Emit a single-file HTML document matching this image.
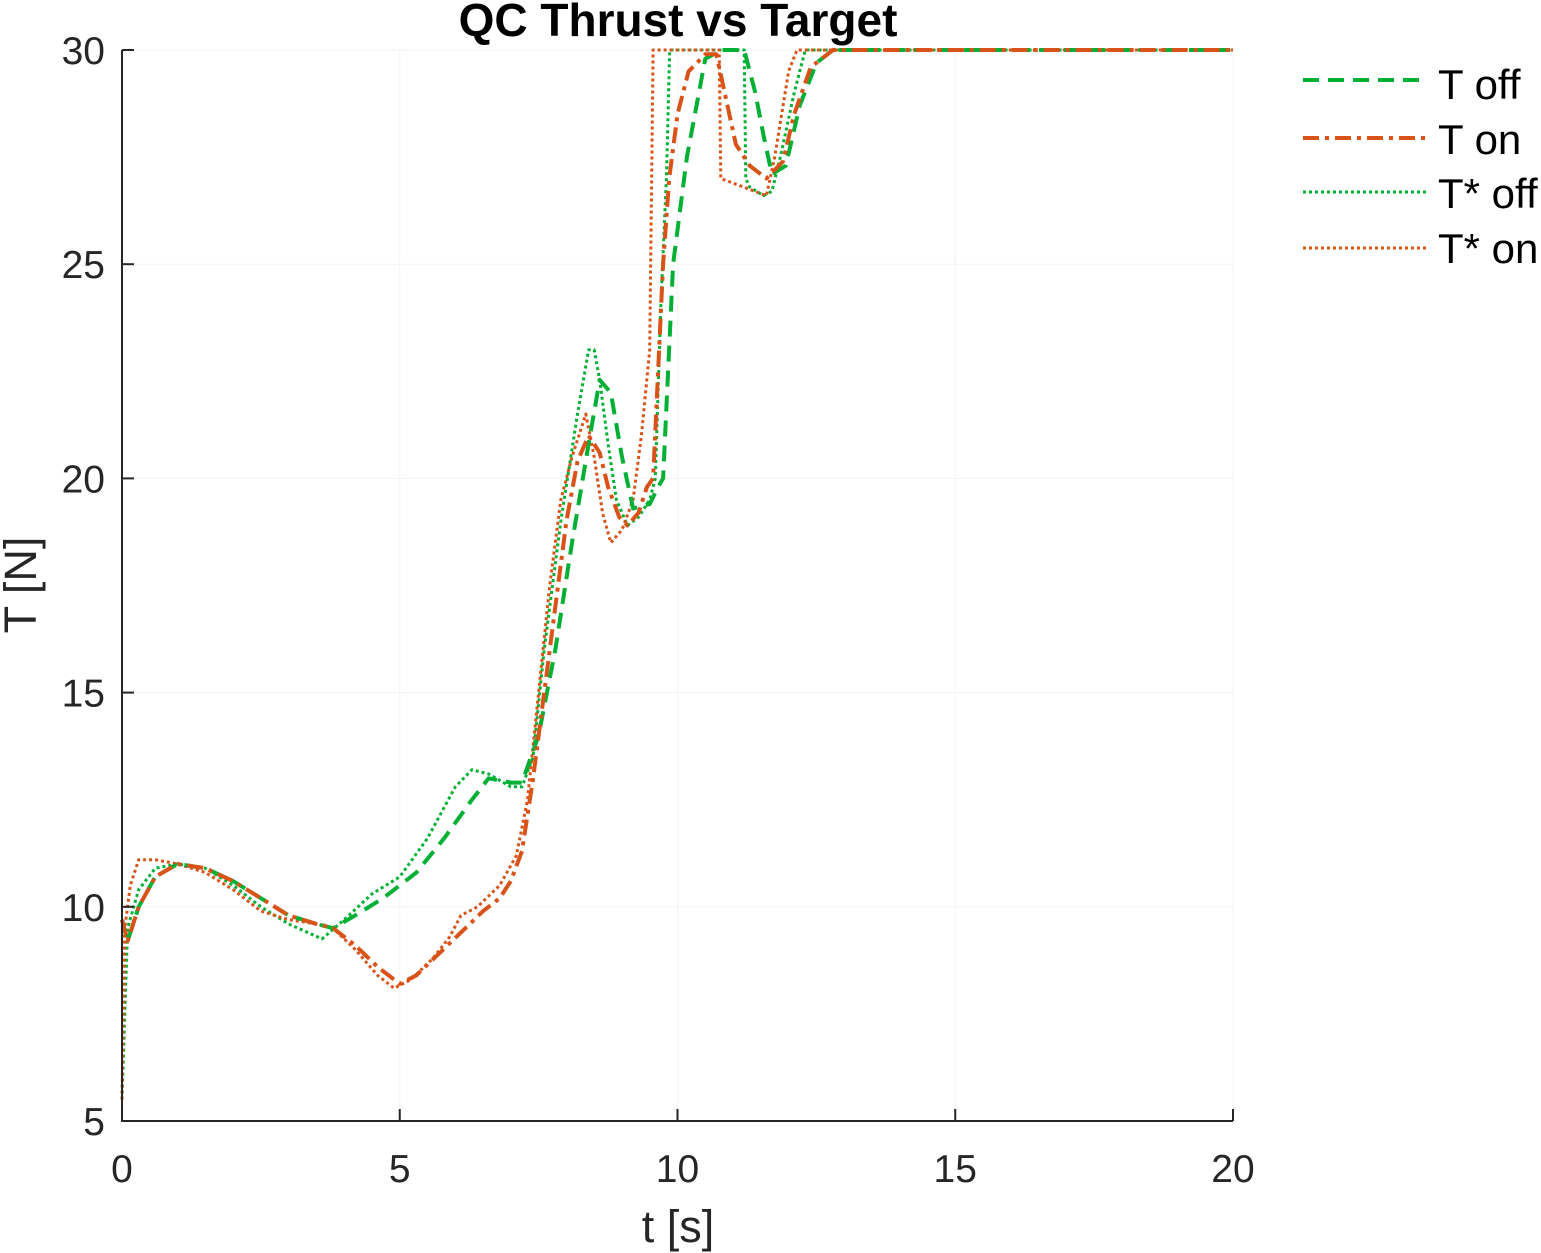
<!DOCTYPE html>
<html><head><meta charset="utf-8"><style>
html,body{margin:0;padding:0;background:#fff;}
svg{display:block;font-family:"Liberation Sans",sans-serif;}
</style></head><body>
<svg id="chart" width="1541" height="1253" viewBox="0 0 1541 1253" xmlns="http://www.w3.org/2000/svg">
<text x="678" y="36" text-anchor="middle" font-size="46" font-weight="bold" fill="#000">QC Thrust vs Target</text>
<g id="grid"></g>
<g id="series"></g>
<g id="axes"></g>
<text transform="translate(36,585) rotate(-90)" text-anchor="middle" font-size="45" fill="#262626">T [N]</text>
<text x="678" y="1242" text-anchor="middle" font-size="45" fill="#262626">t [s]</text>
<g font-size="42" fill="#000">
  <g><line x1="1303" y1="80" x2="1428" y2="80" stroke="#00b035" stroke-width="4" stroke-dasharray="16,9"/><text x="1438" y="99">T off</text></g>
  <g><line x1="1303" y1="138" x2="1428" y2="138" stroke="#d95319" stroke-width="4" stroke-dasharray="16,6,4,6"/><text x="1438" y="154">T on</text></g>
  <g><line x1="1303" y1="192" x2="1428" y2="192" stroke="#00b035" stroke-width="3" stroke-dasharray="3,3"/><text x="1438" y="208">T* off</text></g>
  <g><line x1="1303" y1="248" x2="1428" y2="248" stroke="#d95319" stroke-width="3" stroke-dasharray="3,3"/><text x="1438" y="263">T* on</text></g>
</g>
</svg>
<script>
const xTicks=[0,5,10,15,20];
const yTicks=[5,10,15,20,25,30];
const tOffT=[0,0.1,0.3,0.6,1.0,1.5,2.0,2.5,3.0,3.5,3.8,4.2,4.7,5.3,5.8,6.3,6.6,7.0,7.2,7.5,7.8,8.1,8.4,8.6,8.8,9.0,9.2,9.5,9.65,9.74,9.92,10.17,10.5,10.8,11.2,11.4,11.55,11.7,11.95,12.2,12.5,12.8,13.5,20];
const tOffV=[9.7,9.2,10.0,10.7,11.0,10.9,10.6,10.2,9.8,9.6,9.5,9.8,10.2,10.8,11.6,12.5,13.0,12.9,12.9,14,16.0,18.5,20.8,22.3,22.0,20.5,19.3,19.4,19.8,20,25,27.5,29.8,30,30,29,28,27.1,27.3,28.7,29.7,30,30,30];
const tOnT=[0,0.1,0.3,0.6,1.0,1.5,2.0,2.5,3.0,3.5,3.8,4.2,4.6,5.0,5.3,5.7,6.1,6.5,6.8,7.0,7.2,7.4,7.6,7.8,8.0,8.2,8.4,8.6,8.75,8.95,9.1,9.3,9.45,9.56,9.65,9.74,9.85,10.0,10.2,10.5,10.7,10.85,11.05,11.3,11.6,11.9,12.1,12.4,12.8,20];
const tOnV=[9.7,9.2,10.0,10.7,11.0,10.9,10.6,10.2,9.8,9.6,9.5,9.1,8.6,8.2,8.4,8.9,9.4,9.9,10.2,10.6,11.3,13,15,17,19,20.4,21.0,20.6,19.8,19.1,18.9,19.2,19.8,20,22.5,25,27,28.5,29.5,29.9,29.9,29.0,27.8,27.3,27.0,27.4,28.5,29.6,30,30];
const sOffT=[0,0.1,0.3,0.6,1.0,1.5,2.0,2.5,3.0,3.6,4.0,4.5,5.0,5.5,6.0,6.3,6.6,7.0,7.2,7.4,7.6,7.9,8.2,8.4,8.5,8.6,8.75,8.9,9.1,9.3,9.5,9.6,9.7,9.8,9.86,11.2,11.23,11.3,11.55,11.7,11.85,12.1,12.3,20];
const sOffV=[5.5,9.5,10.4,10.9,11.0,10.9,10.5,10.0,9.6,9.25,9.7,10.3,10.7,11.6,12.8,13.2,13.1,12.8,12.8,13.5,16,19,21.5,23.0,23.0,22.3,20.8,19.5,18.9,19.1,19.5,20.0,24,27,30,30,27,26.8,26.6,26.7,27.5,29,30,30];
const sOnT=[0,0.05,0.15,0.3,0.6,1.0,1.5,2.0,2.5,3.0,3.5,3.8,4.2,4.6,4.9,5.2,5.6,5.9,6.1,6.4,6.8,7.1,7.3,7.5,7.7,7.9,8.1,8.35,8.5,8.65,8.8,9.0,9.2,9.35,9.5,9.56,10.75,10.78,11.6,11.75,12.0,12.15,20];
const sOnV=[5.5,9.5,10.5,11.1,11.1,11.0,10.8,10.4,9.9,9.7,9.6,9.5,9.0,8.4,8.1,8.3,8.8,9.3,9.8,10.0,10.5,11.2,12.5,15,17.5,19.5,20.5,21.5,20.5,19.2,18.5,18.8,19.5,21,23,30,30,27,26.6,27.5,29.5,30,30];

const X0=122,X1=1233,Y0=1121,Y1=50;
const sx=t=>X0+(t-0)/(20-0)*(X1-X0);
const sy=v=>Y0-(v-5)/(30-5)*(Y0-Y1);
const NS='http://www.w3.org/2000/svg';
const grid=document.getElementById('grid'),axes=document.getElementById('axes'),ser=document.getElementById('series');
function mk(tag,attrs,parent){const e=document.createElementNS(NS,tag);for(const k in attrs)e.setAttribute(k,attrs[k]);parent.appendChild(e);return e;}
xTicks.forEach(t=>{
  const g=mk('line',{x1:sx(t),x2:sx(t),y1:Y1,y2:Y0,stroke:'#f3f3f3','stroke-width':1},grid);
  
  
  const tk=mk('line',{x1:sx(t),x2:sx(t),y1:Y0,y2:Y0-12,stroke:'#262626','stroke-width':2},axes);
  
  
  const lb=mk('text',{x:sx(t),y:1182,'text-anchor':'middle','font-size':39,fill:'#262626'},axes);
  lb.textContent=t;
  
  
});
yTicks.forEach(v=>{
  const g=mk('line',{x1:X0,x2:X1,y1:sy(v),y2:sy(v),stroke:'#f3f3f3','stroke-width':1},grid);
  
  
  const tk=mk('line',{x1:X0,x2:X0+12,y1:sy(v),y2:sy(v),stroke:'#262626','stroke-width':2},axes);
  
  
  const lb=mk('text',{x:105,y:sy(v)+14,'text-anchor':'end','font-size':39,fill:'#262626'},axes);
  lb.textContent=v;
  
  
});
const ax=mk('path',{d:`M${X0},${Y1}V${Y0}H${X1}`,fill:'none',stroke:'#262626','stroke-width':2},axes);


function line(ts,vs,color,w,dash,name){
  const d=ts.map((t,i)=>(i?'L':'M')+sx(t).toFixed(1)+','+sy(vs[i]).toFixed(1)).join('');
  const p=mk('path',{d:d,fill:'none',stroke:color,'stroke-width':w,'stroke-dasharray':dash,'stroke-linejoin':'round'},ser);
  
  
}
line(sOffT,sOffV,'#00b035',3,'3,3','series-tstar-off');
line(sOnT,sOnV,'#d95319',3,'3,3','series-tstar-on');
line(tOffT,tOffV,'#00b035',4,'16,9','series-t-off');
line(tOnT,tOnV,'#d95319',4,'16,6,4,6','series-t-on');
</script>
</body></html>
